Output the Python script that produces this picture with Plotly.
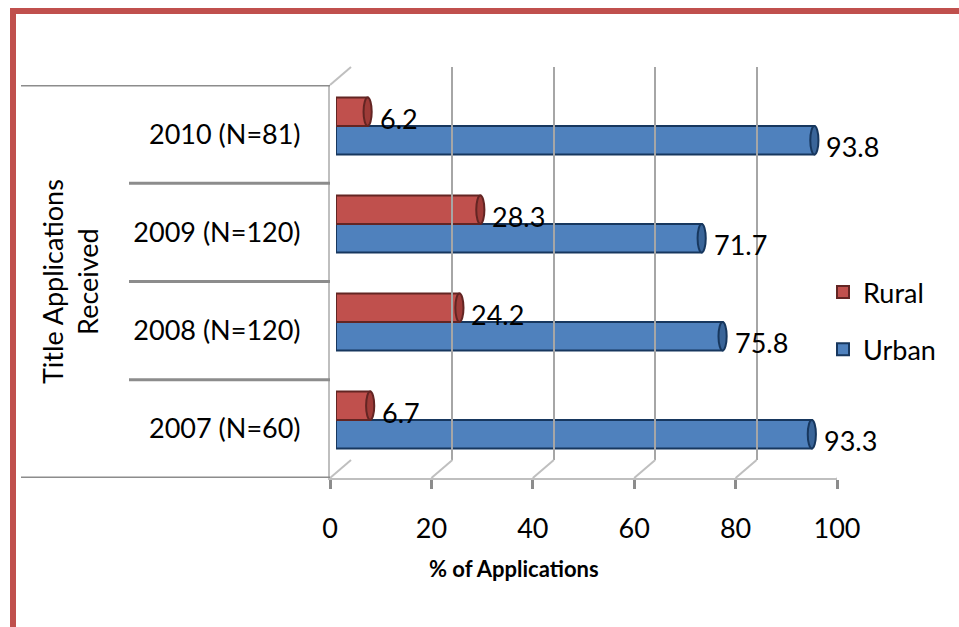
import plotly.graph_objects as go

# ---------------- data ----------------
categories = ["2007 (N=60)", "2008 (N=120)", "2009 (N=120)", "2010 (N=81)"]
rural = [6.7, 24.2, 28.3, 6.2]
urban = [93.3, 75.8, 71.7, 93.8]
x_ticks = [0, 20, 40, 60, 80, 100]
x_title = "% of Applications"
y_title = "Title Applications<br>Received"
series_names = ["Rural", "Urban"]

# ---------------- geometry helpers ----------------
W, H = 959, 627
FONT = "Lato, Carlito, Calibri, sans-serif"


def px(x):
    return x / W


def py(y):
    return 1 - y / H


FRONT = dict(x0=330, x1=837, yt=85, yb=478)
BACK = dict(x0=351, x1=858, yt=67, yb=460)
BARS = dict(x0=336, x1=846, yt=77, yb=469)
BARGAP = 0.42
RED = "#C0504D"
RED_DARK = "#632523"
RED_CAP = "#9E3B38"
BLUE = "#4F81BD"
BLUE_DARK = "#17375E"
BLUE_CAP = "#3A6599"
GRID = "#A6A6A6"
EDGE = "#BFBFBF"

fig = go.Figure()

# bars (Urban first -> lower within the group, Rural on top)
fig.add_trace(go.Bar(
    y=categories, x=urban, orientation="h", name=series_names[1],
    marker=dict(color=BLUE, line=dict(color=BLUE_DARK, width=2)),
    legendgroup="u", legendrank=2, xaxis="x", yaxis="y",
))
fig.add_trace(go.Bar(
    y=categories, x=rural, orientation="h", name=series_names[0],
    marker=dict(color=RED, line=dict(color=RED_DARK, width=2)),
    legendgroup="r", legendrank=1, xaxis="x", yaxis="y",
))
# empty helper traces so that the front and back subplots exist
fig.add_trace(go.Scatter(x=[], y=[], xaxis="x2", yaxis="y2", showlegend=False))
fig.add_trace(go.Scatter(x=[], y=[], xaxis="x3", yaxis="y3", showlegend=False))

annotations = []
# data labels
for i, (r, u) in enumerate(zip(rural, urban)):
    annotations.append(dict(x=r, y=i, xref="x", yref="y", text=f"{r}", showarrow=False,
                            xanchor="left", yanchor="middle", xshift=10, yshift=7,
                            font=dict(family=FONT, size=27, color="black")))
    annotations.append(dict(x=u, y=i, xref="x", yref="y", text=f"{u}", showarrow=False,
                            xanchor="left", yanchor="middle", xshift=10, yshift=-21,
                            font=dict(family=FONT, size=27, color="black")))
# axis titles
annotations.append(dict(x=px(514), y=py(568), xref="paper", yref="paper", text=f"<b>{x_title}</b>",
                        showarrow=False, xanchor="center", yanchor="middle",
                        font=dict(family=FONT, size=22, color="black")))
annotations.append(dict(x=px(70), y=py(282), xref="paper", yref="paper", text=y_title,
                        showarrow=False, textangle=-90, xanchor="center", yanchor="middle",
                        font=dict(family=FONT, size=27, color="black")))

shapes = []
# red frame
shapes.append(dict(type="line", xref="paper", yref="paper", x0=px(13), x1=px(13), y0=py(8), y1=0,
                   line=dict(color=RED, width=6)))
shapes.append(dict(type="line", xref="paper", yref="paper", x0=px(10), x1=1, y0=py(11), y1=py(11),
                   line=dict(color=RED, width=6)))
# category separators (table lines), in category units of the front axis
for k in range(len(categories) + 1):
    b = k - 0.5
    left = 21 if k in (0, len(categories)) else 129
    shapes.append(dict(type="line", xref="paper", yref="y2", x0=px(left), x1=px(FRONT["x0"]),
                       y0=b, y1=b, line=dict(color="#8C8C8C", width=3)))
# floor diagonals from front ticks to back grid lines
dx = BACK["x0"] - FRONT["x0"]
for v in x_ticks:
    shapes.append(dict(type="line", xref="x2", yref="paper", x0=v, x1=v + dx * 100 / (FRONT["x1"] - FRONT["x0"]),
                       y0=py(FRONT["yb"]), y1=py(BACK["yb"]), line=dict(color=EDGE, width=2)))
# top-left wall diagonal
shapes.append(dict(type="line", xref="paper", yref="paper", x0=px(FRONT["x0"]), x1=px(BACK["x0"]),
                   y0=py(FRONT["yt"]), y1=py(BACK["yt"]), line=dict(color=EDGE, width=2)))

# cylinder end caps (ellipses at each bar's end, in data units of the bar axes)
half_bar = (1 - BARGAP) / 4          # half the thickness of one bar, in category units
cap_half_w = 0.8                      # half the cap width, in value units
for i, (r, u) in enumerate(zip(rural, urban)):
    for v, c, fill, line in ((r, i + half_bar, RED_CAP, RED_DARK), (u, i - half_bar, BLUE_CAP, BLUE_DARK)):
        shapes.append(dict(type="circle", xref="x", yref="y",
                           x0=v - cap_half_w, x1=v + cap_half_w,
                           y0=c - half_bar, y1=c + half_bar,
                           fillcolor=fill, line=dict(color=line, width=2), layer="above"))

fig.update_layout(
    width=W, height=H,
    margin=dict(l=0, r=0, t=0, b=0, pad=0, autoexpand=False),
    paper_bgcolor="white", plot_bgcolor="rgba(0,0,0,0)",
    barmode="group", bargap=BARGAP, bargroupgap=0,
    font=dict(family=FONT, size=27, color="black"),
    showlegend=True,
    legend=dict(x=px(823), y=py(268), xanchor="left", yanchor="top",
                font=dict(family=FONT, size=27, color="black"),
                tracegroupgap=19, bgcolor="rgba(0,0,0,0)"),
    xaxis=dict(domain=[px(BARS["x0"]), px(BARS["x1"])], range=[0, 100], anchor="y",
               visible=False, fixedrange=True),
    yaxis=dict(domain=[py(BARS["yb"]), py(BARS["yt"])], type="category",
               categoryorder="array", categoryarray=categories, range=[-0.5, 3.5],
               anchor="x", visible=False),
    xaxis2=dict(domain=[px(FRONT["x0"]), px(FRONT["x1"])], range=[0, 100], anchor="y2",
                tickvals=x_ticks, ticks="outside", ticklen=9, tickwidth=3, tickcolor="#8C8C8C",
                showline=True, linecolor=EDGE, linewidth=2, showgrid=False, zeroline=False,
                tickfont=dict(family=FONT, size=27, color="black"), ticklabelstandoff=17),
    yaxis2=dict(domain=[py(FRONT["yb"]), py(FRONT["yt"])], range=[-0.5, 3.5], anchor="x2",
                tickvals=list(range(len(categories))), ticktext=categories, ticks="",
                showline=True, linecolor=EDGE, linewidth=2, showgrid=False, zeroline=False,
                tickfont=dict(family=FONT, size=27, color="black"), ticklabelstandoff=22),
    xaxis3=dict(domain=[px(BACK["x0"]), px(BACK["x1"])], range=[0, 100], anchor="y3",
                tickvals=x_ticks, showticklabels=False, ticks="", showgrid=True,
                gridcolor=GRID, gridwidth=2, zeroline=False, showline=False),
    yaxis3=dict(domain=[py(BACK["yb"]), py(BACK["yt"])], range=[0, 1], anchor="x3",
                visible=False, showgrid=False),
    annotations=annotations,
    shapes=shapes,
)

fig.write_html("out.html")
